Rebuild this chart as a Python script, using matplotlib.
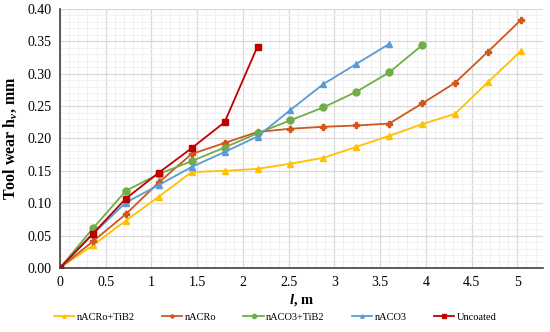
import matplotlib.pyplot as plt
import numpy as np
from matplotlib.ticker import MultipleLocator, FormatStrFormatter

plt.rcParams['font.family'] = ['Liberation Serif', 'DejaVu Serif']
plt.rcParams['mathtext.fontset'] = 'custom'
plt.rcParams['mathtext.it'] = 'Liberation Serif:italic:bold'
plt.rcParams['mathtext.rm'] = 'Liberation Serif:bold'

# path length, m
l = [0, 0.36, 0.72, 1.08, 1.44, 1.80, 2.16, 2.52, 2.88, 3.24, 3.60, 3.96, 4.32, 4.68, 5.04]

# tool wear, mm
nacro_tib2 = [0, 0.035, 0.073, 0.110, 0.148, 0.150, 0.153, 0.161, 0.170, 0.187, 0.204, 0.222, 0.238, 0.287, 0.335]
nacro = [0, 0.041, 0.083, 0.132, 0.176, 0.193, 0.210, 0.215, 0.218, 0.220, 0.223, 0.254, 0.286, 0.334, 0.383]
naco3_tib2 = [0, 0.061, 0.119, 0.145, 0.165, 0.186, 0.208, 0.228, 0.248, 0.272, 0.302, 0.344]
naco3 = [0, 0.052, 0.101, 0.128, 0.156, 0.179, 0.203, 0.244, 0.284, 0.315, 0.346]
uncoated = [0, 0.053, 0.107, 0.147, 0.185, 0.225, 0.342]

fig = plt.figure(figsize=(5.5, 3.32), dpi=100)
ax = fig.add_axes([0.109, 0.193, 0.878, 0.780])

ax.plot(l[:len(nacro_tib2)], nacro_tib2, '-^', color='#FFC000', lw=1.3, ms=4, label='nACRo+TiB2')
ax.plot(l[:len(nacro)], nacro, '-P', color='#D0561C', lw=1.3, ms=4, label='nACRo')
ax.plot(l[:len(naco3_tib2)], naco3_tib2, '-o', color='#70AD47', lw=1.3, ms=5, label='nACO3+TiB2')
ax.plot(l[:len(naco3)], naco3, '-^', color='#5B9BD5', lw=1.3, ms=4, label='nACO3')
ax.plot(l[:len(uncoated)], uncoated, '-s', color='#C00000', lw=1.3, ms=5, label='Uncoated')

ax.set_xlim(0, 5.28)
ax.set_ylim(0, 0.40)
ax.xaxis.set_major_locator(MultipleLocator(0.5))
ax.xaxis.set_minor_locator(MultipleLocator(0.1))
ax.yaxis.set_major_locator(MultipleLocator(0.05))
ax.yaxis.set_minor_locator(MultipleLocator(0.01))
ax.yaxis.set_major_formatter(FormatStrFormatter('%.2f'))
ax.xaxis.set_major_formatter(plt.FuncFormatter(lambda v, p: ('%g' % v)))

ax.grid(True, which='major', color='#D9D9D9', lw=0.9)
ax.grid(True, which='minor', color='#EFEFEF', lw=0.6)
ax.set_axisbelow(True)
ax.tick_params(which='both', length=0, labelsize=10, pad=6)

for s in ['top', 'right']:
    ax.spines[s].set_visible(False)
for s in ['left', 'bottom']:
    ax.spines[s].set_color('#404040')
    ax.spines[s].set_linewidth(1.2)

ax.set_xlabel('$l$, m', fontsize=10.5, fontweight='bold', labelpad=2)
ax.set_ylabel('Tool wear h$_v$, mm', fontsize=11.5, fontweight='bold', labelpad=6)

fig.legend(loc='center', bbox_to_anchor=(0.5, 0.045), ncol=5, frameon=False,
           fontsize=7.5, handlelength=2.0, markerscale=0.6, columnspacing=2.6, handletextpad=0.2)

fig.savefig('out.png', dpi=100)
